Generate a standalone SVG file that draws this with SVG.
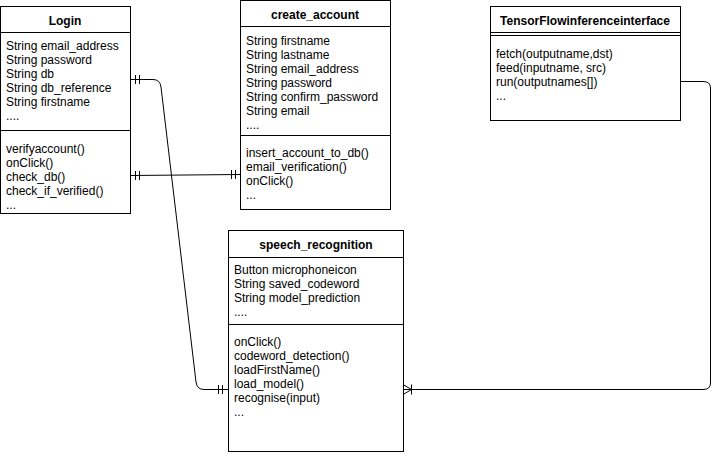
<svg xmlns="http://www.w3.org/2000/svg" width="719" height="454" viewBox="0 0 719 454">
<style>
.box{fill:#fff;stroke:#000;stroke-width:1}
.ln{stroke:#000;stroke-width:1;fill:none}
text{font-family:"Liberation Sans",Arial,sans-serif;font-size:12px;fill:#000}
.t{font-weight:bold;text-anchor:middle}
</style>
<rect width="719" height="454" fill="#fff"/>
<g id="connectors">
<path class="ln" d="M130.5 79.5 H153 Q160 79.5 161 87 L196 382 Q197 389.5 204 389.5 H228"/>
<path class="ln" d="M135.5 75 V84 M139.5 75 V84 M218.5 385 V394 M222.5 385 V394"/>
<path class="ln" d="M130.5 175.5 L240.5 174.5"/>
<path class="ln" d="M135.5 171 V180 M139.5 171 V180 M231.5 170 V179 M235.5 170 V179"/>
<path class="ln" d="M680.5 81.5 H703 Q710.5 81.5 710.5 88 V383 Q710.5 389.5 703 389.5 H403"/>
<path class="ln" d="M403 384.5 L411.5 389.5 L403 394.5 M411.5 384.5 V394.5"/>
</g>
<g id="login">
<rect class="box" x="0.5" y="6.5" width="130" height="207"/>
<path class="ln" d="M0.5 32.5 H130.5 M0.5 130.5 H130.5"/>
<text class="t" x="65" y="25">Login</text>
<text x="6" y="50">String email_address</text>
<text x="6" y="64">String password</text>
<text x="6" y="78">String db</text>
<text x="6" y="92">String db_reference</text>
<text x="6" y="106">String firstname</text>
<text x="6" y="120">....</text>
<text x="6" y="153">verifyaccount()</text>
<text x="6" y="167">onClick()</text>
<text x="6" y="181">check_db()</text>
<text x="6" y="195">check_if_verified()</text>
<text x="6" y="209">...</text>
</g>
<g id="create_account">
<rect class="box" x="240.5" y="0.5" width="150" height="209"/>
<path class="ln" d="M240.5 26.5 H390.5 M240.5 135.5 H390.5"/>
<text class="t" x="315" y="19">create_account</text>
<text x="246" y="45">String firstname</text>
<text x="246" y="59">String lastname</text>
<text x="246" y="73">String email_address</text>
<text x="246" y="87">String password</text>
<text x="246" y="101">String confirm_password</text>
<text x="246" y="115">String email</text>
<text x="246" y="129">....</text>
<text x="246" y="157">insert_account_to_db()</text>
<text x="246" y="171">email_verification()</text>
<text x="246" y="185">onClick()</text>
<text x="246" y="199">...</text>
</g>
<g id="tensorflow">
<rect class="box" x="490.5" y="6.5" width="190" height="114"/>
<path class="ln" d="M490.5 32.5 H680.5 M490.5 35.5 H680.5"/>
<text class="t" x="585" y="25">TensorFlowinferenceinterface</text>
<text x="496" y="58">fetch(outputname,dst)</text>
<text x="496" y="72">feed(inputname, src)</text>
<text x="496" y="86">run(outputnames[])</text>
<text x="496" y="100">...</text>
</g>
<g id="speech_recognition">
<rect class="box" x="228.5" y="230.5" width="175" height="221"/>
<path class="ln" d="M228.5 257.5 H403.5 M228.5 324.5 H403.5"/>
<text class="t" x="316" y="249">speech_recognition</text>
<text x="234" y="274">Button microphoneicon</text>
<text x="234" y="288">String saved_codeword</text>
<text x="234" y="302">String model_prediction</text>
<text x="234" y="316">....</text>
<text x="234" y="346">onClick()</text>
<text x="234" y="360">codeword_detection()</text>
<text x="234" y="374">loadFirstName()</text>
<text x="234" y="388">load_model()</text>
<text x="234" y="402">recognise(input)</text>
<text x="234" y="416">...</text>
</g>
</svg>
